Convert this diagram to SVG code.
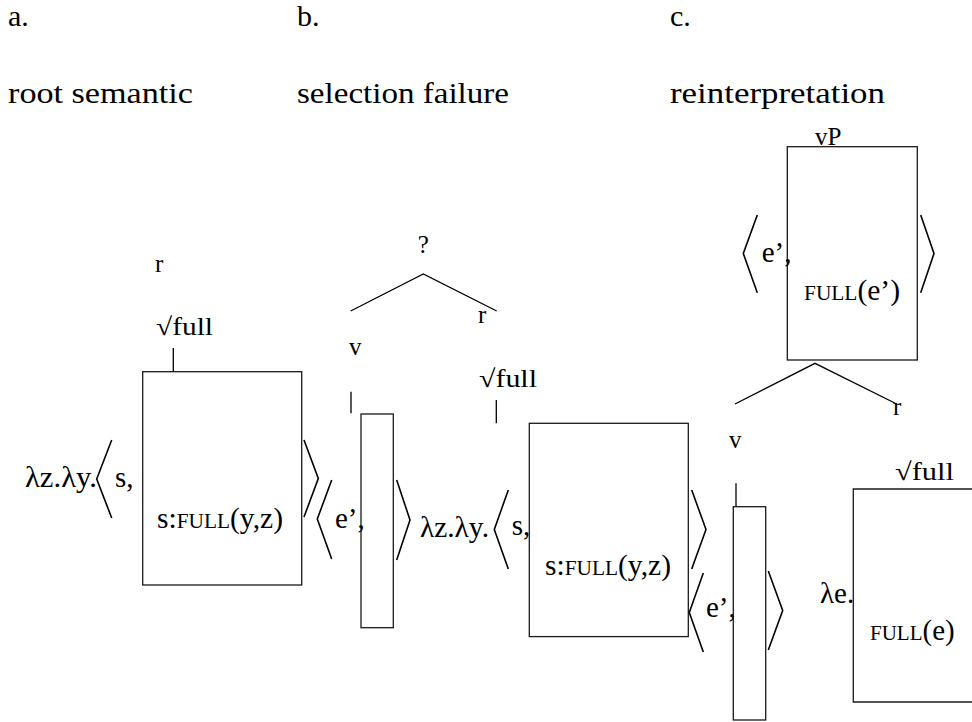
<svg xmlns="http://www.w3.org/2000/svg" width="972" height="722" viewBox="0 0 972 722">
<style>
text{font-family:'Liberation Serif','DejaVu Serif',serif;fill:#000}
.hd{font-size:30px}
.lb{font-size:25px}
.m{font-size:29px}
.sc{font-size:21px}
.box{fill:none;stroke:#1a1a1a;stroke-width:1.3}
.br{fill:none;stroke:#000;stroke-width:1.6;stroke-linejoin:miter}
.cn{fill:none;stroke:#000;stroke-width:1.3}
</style>
<rect width="972" height="722" fill="#fff"/>
<g id="headers">
<text class="hd" x="8" y="26">a.</text>
<text class="hd" x="297" y="26">b.</text>
<text class="hd" x="670" y="26">c.</text>
<text class="hd" x="8" y="103" textLength="185" lengthAdjust="spacingAndGlyphs">root semantic</text>
<text class="hd" x="297" y="103" textLength="212" lengthAdjust="spacingAndGlyphs">selection failure</text>
<text class="hd" x="670" y="103" textLength="215" lengthAdjust="spacingAndGlyphs">reinterpretation</text>
</g>
<g id="connectors">
<line class="cn" x1="173.3" y1="348" x2="173.3" y2="371.7"/>
<polyline class="cn" points="350.7,311 423.3,274 496.7,311"/>
<line class="cn" x1="351" y1="391.7" x2="351" y2="413.3"/>
<line class="cn" x1="496.3" y1="400" x2="496.3" y2="423.3"/>
<polyline class="cn" points="735,404 815,363.3 896.7,404"/>
<line class="cn" x1="736" y1="483.3" x2="736" y2="506.7"/>
</g>
<g id="a-r"><text class="lb" x="155" y="272">r</text></g>
<g id="a-root"><text class="lb" x="156" y="335" textLength="57" lengthAdjust="spacingAndGlyphs">√full</text></g>
<g id="a-sem">
<text class="m" x="25" y="487" textLength="72" lengthAdjust="spacingAndGlyphs">λz.λy.</text>
<polyline class="br" points="111.7,440 96.7,479 111.7,518"/>
<text class="m" x="115" y="487">s,</text>
<rect class="box" x="142.7" y="371.7" width="159" height="213.3"/>
<text class="m" x="157" y="528" textLength="126" lengthAdjust="spacingAndGlyphs">s:<tspan class="sc">FULL</tspan>(y,z)</text>
<polyline class="br" points="304,440 318.3,478.5 304,517"/>
</g>
<g id="b-q"><text class="lb" x="423.3" y="253" text-anchor="middle">?</text></g>
<g id="b-r"><text class="lb" x="478" y="323">r</text></g>
<g id="b-v"><text class="lb" x="349" y="355">v</text></g>
<g id="b-vsem">
<polyline class="br" points="331.7,480 317.3,519 331.7,559"/>
<text class="m" x="335" y="528">e’,</text>
<rect class="box" x="361" y="414" width="32.3" height="213.7"/>
<polyline class="br" points="396.7,480 410,520 396.7,560"/>
</g>
<g id="b-root"><text class="lb" x="479" y="387" textLength="58" lengthAdjust="spacingAndGlyphs">√full</text></g>
<g id="b-rsem">
<text class="m" x="420" y="537" textLength="69" lengthAdjust="spacingAndGlyphs">λz.λy.</text>
<polyline class="br" points="508.3,490 494.3,529.5 508.3,569"/>
<text class="m" x="511.7" y="535">s,</text>
<rect class="box" x="529.3" y="423.3" width="159" height="213.3"/>
<text class="m" x="545" y="575" textLength="126" lengthAdjust="spacingAndGlyphs">s:<tspan class="sc">FULL</tspan>(y,z)</text>
<polyline class="br" points="691.7,490 706,529.5 691.7,569"/>
</g>
<g id="c-vP">
<text class="lb" x="815" y="145">vP</text>
<rect class="box" x="787.3" y="146.7" width="130" height="213.3"/>
<polyline class="br" points="757.3,215 743.3,253.5 757.3,292.7"/>
<text class="m" x="761.7" y="262">e’,</text>
<text class="m" x="804" y="300" textLength="96" lengthAdjust="spacingAndGlyphs"><tspan class="sc">FULL</tspan>(e’)</text>
<polyline class="br" points="920.7,215 934,253.5 920.7,292.7"/>
</g>
<g id="c-r"><text class="lb" x="893" y="415">r</text></g>
<g id="c-v"><text class="lb" x="729" y="448">v</text></g>
<g id="c-vsem">
<polyline class="br" points="703.3,573 689.3,612.5 703.3,652"/>
<text class="m" x="706" y="617">e’,</text>
<rect class="box" x="733.3" y="506.7" width="32.4" height="213.3"/>
<polyline class="br" points="768.3,571 782.7,610.5 768.3,650"/>
</g>
<g id="c-root"><text class="lb" x="895" y="480" textLength="59" lengthAdjust="spacingAndGlyphs">√full</text></g>
<g id="c-rsem">
<text class="m" x="820" y="603">λe.</text>
<polyline class="box" points="972,489 853.3,489 853.3,702 972,702"/>
<text class="m" x="870" y="640"><tspan class="sc">FULL</tspan>(e)</text>
</g>
</svg>
